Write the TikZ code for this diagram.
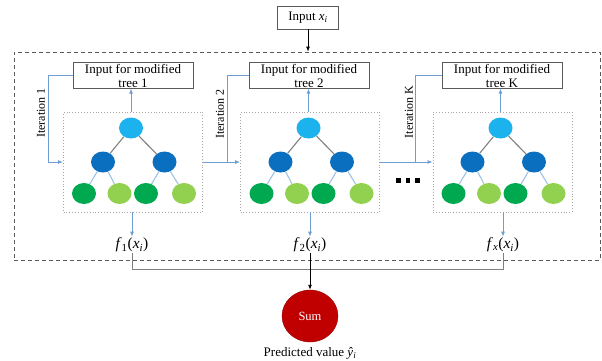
\documentclass[tikz,border=0pt]{standalone}
\usepackage{fontspec}
\setmainfont{Liberation Serif}
\usetikzlibrary{shapes.geometric,arrows.meta}
\definecolor{rootblue}{HTML}{1CB2EE}
\definecolor{midblue}{HTML}{0A6FBF}
\definecolor{leafdark}{HTML}{00A84F}
\definecolor{leaflight}{HTML}{92D050}
\definecolor{edgegray}{HTML}{808080}
\definecolor{edgeblue}{HTML}{9DC3E6}
\definecolor{arrblue}{HTML}{6E9ED3}
\definecolor{sumred}{HTML}{C00000}
\definecolor{boxgray}{HTML}{5A5A5A}
\newcommand\itsub[1]{\textsubscript{\itshape #1}}
\tikzset{
  treen/.style={ellipse,minimum width=24,minimum height=21,inner sep=0},
  rootn/.style={treen,fill=rootblue},
  midn/.style={treen,fill=midblue},
  leafd/.style={treen,fill=leafdark},
  leafl/.style={treen,fill=leaflight},
  topedge/.style={draw=edgegray,line width=1.1pt},
  botedge/.style={draw=edgeblue,line width=1.1pt},
  treebox/.style={draw=gray!70,dotted,line width=0.9pt,minimum width=139,minimum height=100,inner sep=0},
  inbox/.style={draw=boxgray,line width=0.9pt,minimum width=120,align=center,inner xsep=0,inner ysep=1,font=\fontsize{13}{14}\selectfont},
  itlabel/.style={rotate=90,font=\fontsize{12}{13}\selectfont,inner sep=0},
  barrow/.style={draw=arrblue,line width=0.9pt,-{Latex[length=5pt,width=4pt]}},
  bline/.style={draw=arrblue,line width=0.9pt},
  flabel/.style={font=\fontsize{15.5}{16}\selectfont,inner sep=1},
}
\newcommand\mytree[2]{%
  \node[rootn] (#1r) at (#2,128) {};
  \node[midn] (#1a) at (#2-28,162) {};
  \node[midn] (#1b) at (#2+33.5,162) {};
  \node[leafd] (#1l1) at (#2-47,193.5) {};
  \node[leafl] (#1l2) at (#2-11.5,193.5) {};
  \node[leafd] (#1l3) at (#2+15,193.5) {};
  \node[leafl] (#1l4) at (#2+53,193.5) {};
  \draw[topedge] (#1r) -- (#1a);
  \draw[topedge] (#1r) -- (#1b);
  \draw[botedge] (#1a) -- (#1l1);
  \draw[botedge] (#1a) -- (#1l2);
  \draw[botedge] (#1b) -- (#1l3);
  \draw[botedge] (#1b) -- (#1l4);
}
\begin{document}
\begin{tikzpicture}[x=1pt,y=-1pt]
\useasboundingbox (0,0) rectangle (602,360);
% input
\node[draw=boxgray,line width=0.9pt,minimum width=61,minimum height=23,inner sep=0,font=\fontsize{13}{14}\selectfont] (inx) at (308,17.5) {Input \textit{x}\itsub{i}};
\node[draw=boxgray,dashed,dash pattern=on 4pt off 3pt,line width=0.8pt,minimum width=586,minimum height=208,inner sep=0] (outer) at (307,156) {};
\draw[line width=0.8pt,-{Latex[length=5pt,width=4pt]}] (inx.south) -- (inx.south |- outer.north);
% tree boxes
\node[treebox] (t1) at (133,162) {};
\node[treebox] (t2) at (310,162) {};
\node[treebox] (tK) at (502.5,162) {};
\mytree{a}{131}
\mytree{b}{308.5}
\mytree{c}{500.5}
% input boxes
\node[inbox] (in1) at (133,75.5) {Input for modified\\tree 1};
\node[inbox] (in2) at (309,75.5) {Input for modified\\tree 2};
\node[inbox] (inK) at (502,75.5) {Input for modified\\tree K};
% iteration connectors
\coordinate (c1) at (48,162);
\coordinate (c2) at (227,162);
\coordinate (cK) at (415,162);
\draw[bline] (in1.west) -| (c1);
\draw[barrow] (c1) -- (t1.west);
\draw[bline] (in2.west) -| (c2);
\draw[bline] (t1.east) -- (c2);
\draw[barrow] (c2) -- (t2.west);
\draw[bline] (inK.west) -| (cK);
\draw[bline] (t2.east) -- (cK);
\draw[barrow] (cK) -- (tK.west);
\node[itlabel] (it1) at (41,113) {Iteration 1};
\node[itlabel] (it2) at (220,114) {Iteration 2};
\node[itlabel] (itK) at (409,112) {Iteration K};
% up arrows
\draw[barrow] (t1.north -| ar) -- (in1.south -| ar);
\draw[barrow] (t2.north -| br) -- (in2.south -| br);
\draw[barrow] (tK.north -| cr) -- (inK.south -| cr);
% dots
\fill (396,178) rectangle ++(4.5,4.5);
\fill (405.5,178) rectangle ++(4.5,4.5);
\fill (415,178) rectangle ++(4.5,4.5);
% f labels
\node[flabel] (f1) at (132,245) {\textit{f}\textsubscript{1}(\textit{x}\itsub{i})};
\node[flabel] (f2) at (310,245) {\textit{f}\textsubscript{2}(\textit{x}\itsub{i})};
\node[flabel] (fK) at (503,245) {\textit{f}\itsub{x}(\textit{x}\itsub{i})};
\draw[barrow] (t1.south -| f1) -- (f1.north);
\draw[barrow] (t2.south -| f2) -- (f2.north);
\draw[barrow] (tK.south -| fK) -- (fK.north);
% sum
\node[ellipse,fill=sumred,draw=sumred!80!black,minimum width=56,minimum height=52,inner sep=0,text=white,font=\fontsize{12.5}{13}\selectfont] (sum) at (310,316) {Sum};
\node[font=\fontsize{13}{14}\selectfont,inner sep=0] (pred) at (310,353) {Predicted value \textit{\^{y}}\itsub{i}};
\coordinate (bl) at (132,269);
\coordinate (br2) at (503,269);
\draw[draw=gray,line width=0.9pt] (f1.south) -- (bl) -- (br2) -- (fK.south);
\draw[line width=0.9pt,-{Latex[length=5pt,width=4pt]}] (f2.south) -- (sum.north);
\end{tikzpicture}
\end{document}
